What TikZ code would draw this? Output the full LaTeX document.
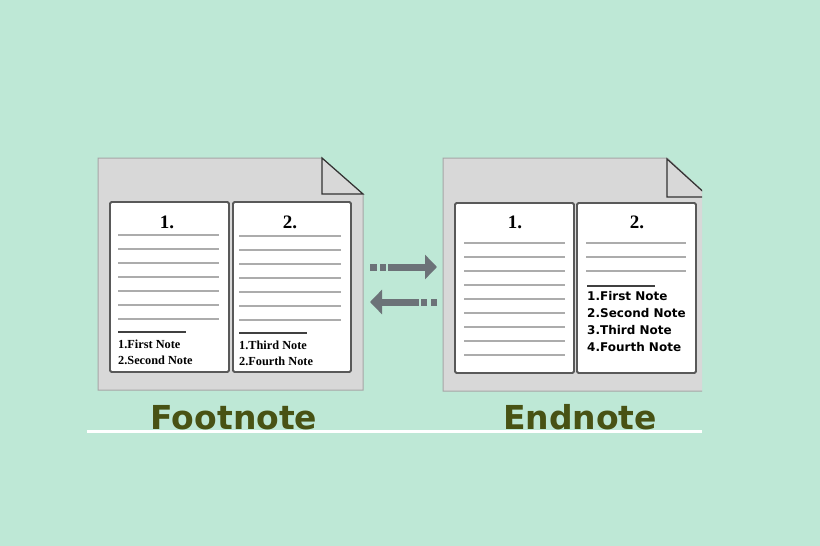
\documentclass[tikz,border=0pt]{standalone}
\usepackage{fontspec}
\setmainfont{Liberation Serif}
\setsansfont{DejaVu Sans}
\usetikzlibrary{arrows.meta, positioning}
\definecolor{mint}{RGB}{190,232,214}
\definecolor{sheetgrey}{RGB}{216,216,216}
\definecolor{rulegrey}{RGB}{172,172,172}
\definecolor{arrowgrey}{RGB}{108,114,120}
\definecolor{olive}{RGB}{72,82,20}
\tikzset{
  sheet/.style={draw=black!35, fill=sheetgrey, line width=1pt},
  fold/.style={draw=black!80, line width=1.2pt, line join=miter},
  leaf/.style={rectangle, rounded corners=1.5pt, draw=black!65, fill=white, line width=1.8pt, minimum width=119pt, minimum height=170pt, inner sep=0pt},
  textline/.style={draw=rulegrey, line width=2.8pt},
  noterule/.style={draw=black!75, line width=1.4pt},
  pagenum/.style={inner sep=0pt, font=\bfseries\fontsize{19}{19}\selectfont},
  serifnote/.style={anchor=west, inner sep=0pt, font=\bfseries\fontsize{12.3}{13}\selectfont},
  sansnote/.style={anchor=west, inner sep=0pt, font=\sffamily\bfseries\fontsize{12}{13}\selectfont},
  doctitle/.style={anchor=base, inner sep=0pt, text=olive, font=\sffamily\bfseries\fontsize{33}{33}\selectfont},
  swaparrow/.style={draw=arrowgrey, line width=7pt, -{Triangle[length=12pt, width=24pt]}},
}
\begin{document}
\begin{tikzpicture}[x=1pt, y=-1pt]
\useasboundingbox (0,0) rectangle (820,546);
\fill[mint] (0,0) rectangle (820,546);

% footnote document
\path[sheet] (98,158) -- (322,158) -- (363,194) -- (363,390) -- (98,390) -- cycle;
\draw[fold] (322,158) -- (322,194) -- (363,194) -- cycle;
\node[leaf] (f1) at (169.5,287) {};
\node[leaf, minimum width=118pt] (f2) at (292,287) {};
\node[pagenum] (fnum1) at (167,222) {1.};
\node[pagenum] (fnum2) at (290,222) {2.};
\foreach \y in {235,249,...,319} { \draw[textline] (118,\y) -- (219,\y); }
\foreach \y in {236,250,...,320} { \draw[textline] (239,\y) -- (341,\y); }
\draw[noterule] (118,332) -- (186,332);
\draw[noterule] (239,333) -- (307,333);
\node[serifnote] (fnoteA) at (118,344) {1.First Note};
\node[serifnote] (fnoteB) at (118,360) {2.Second Note};
\node[serifnote] (fnoteC) at (239,345) {1.Third Note};
\node[serifnote] (fnoteD) at (239,361) {2.Fourth Note};

% endnote document (cut off at the right)
\begin{scope}
\clip (0,0) rectangle (702,546);
\path[sheet] (443,158) -- (667,158) -- (709,197) -- (709,391) -- (443,391) -- cycle;
\draw[fold] (667,159) -- (667,197) -- (709,197) -- cycle;
\end{scope}
\node[leaf] (e1) at (514.5,288) {};
\node[leaf] (e2) at (636.5,288) {};
\node[pagenum] (enum1) at (515,222) {1.};
\node[pagenum] (enum2) at (637,222) {2.};
\foreach \y in {243,257,...,355} { \draw[textline] (464,\y) -- (565,\y); }
\foreach \y in {243,257,271} { \draw[textline] (586,\y) -- (686,\y); }
\draw[noterule] (587,286) -- (655,286);
\node[sansnote] (enoteA) at (587,296) {1.First Note};
\node[sansnote] (enoteB) at (587,313) {2.Second Note};
\node[sansnote] (enoteC) at (587,330) {3.Third Note};
\node[sansnote] (enoteD) at (587,347) {4.Fourth Note};

% exchange arrows
\coordinate (fwdS) at (370,267);
\coordinate (fwdE) at (437,267);
\coordinate (bckS) at (437,302);
\coordinate (bckE) at (370,302);
\draw[swaparrow, dash pattern=on 7pt off 3pt on 6pt off 2pt on 200pt] (fwdS) -- (fwdE);
\draw[swaparrow, dash pattern=on 6pt off 4pt on 6pt off 2pt on 200pt] (bckS) -- (bckE);

% titles
\node[doctitle] (ftitle) at (234,429) {Footnote};
\node[doctitle] (etitle) at (580,429) {Endnote};
\draw[white, line width=3pt] (87,431) -- (702,431);
\end{tikzpicture}
\end{document}
